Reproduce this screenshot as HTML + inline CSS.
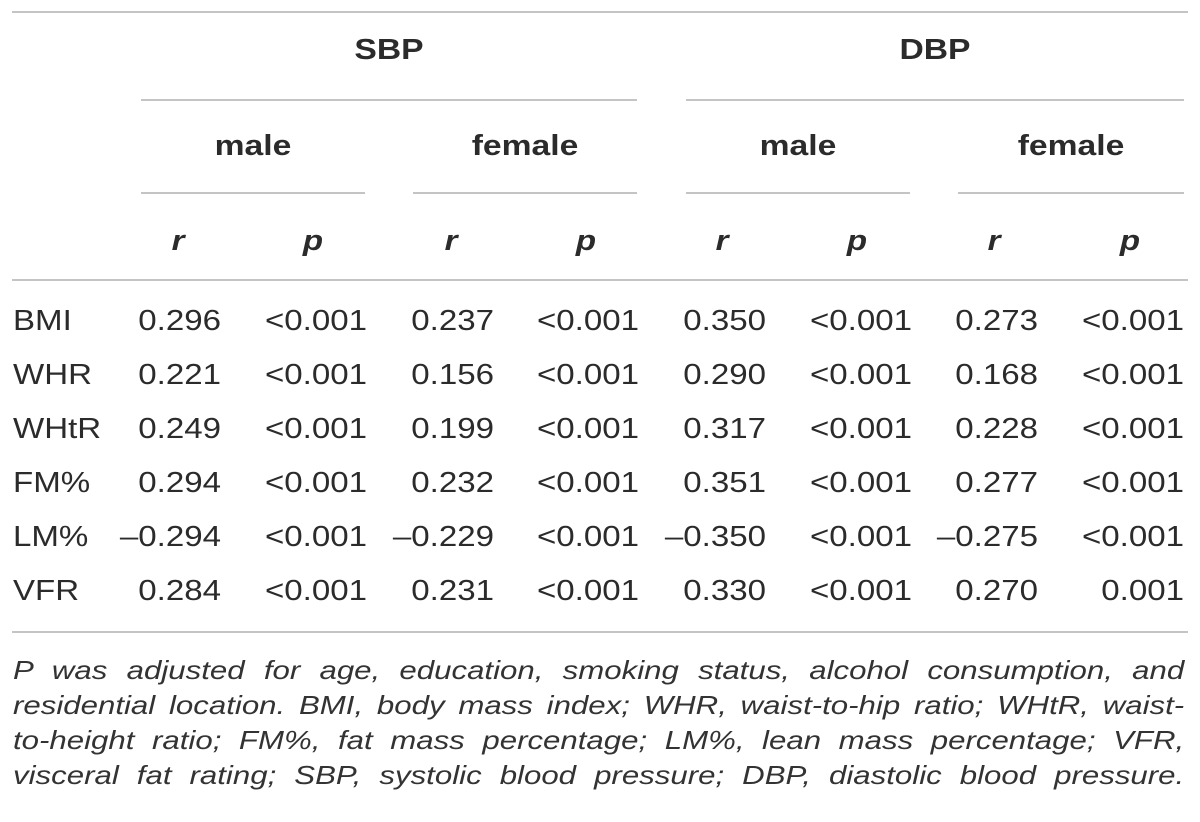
<!DOCTYPE html>
<html><head><meta charset="utf-8"><style>
body{margin:0;width:1200px;height:822px;background:#fff;font-family:"Liberation Sans",sans-serif;color:#2b2b2b;position:relative;overflow:hidden}
.l{position:absolute;height:2px;background:#c4c4c4}
.t{position:absolute;font-size:28.5px;line-height:32px;white-space:nowrap;transform:scaleX(1.16);transform-origin:left center}
.b{font-weight:bold;font-size:29px}
.i{font-style:italic;font-weight:bold}
.r{text-align:right;transform-origin:right center}
.c{text-align:center;transform-origin:center center}
.fn{position:absolute;left:13px;width:976px;font-style:italic;font-size:26px;line-height:30px;text-align:justify;text-align-last:justify;white-space:nowrap;color:#333;transform:scaleX(1.2);transform-origin:left center}
</style></head><body>
<div class="l" style="left:12px;top:11px;width:1176px"></div>
<div class="t b c" style="left:141px;width:496px;top:34px">SBP</div>
<div class="t b c" style="left:686px;width:498px;top:34px">DBP</div>
<div class="l" style="left:141px;top:99px;width:496px"></div>
<div class="l" style="left:686px;top:99px;width:498px"></div>
<div class="t b c" style="left:141px;width:224px;top:130px">male</div>
<div class="t b c" style="left:413px;width:224px;top:130px">female</div>
<div class="t b c" style="left:686px;width:224px;top:130px">male</div>
<div class="t b c" style="left:958px;width:226px;top:130px">female</div>
<div class="l" style="left:141px;top:192px;width:224px"></div>
<div class="l" style="left:413px;top:192px;width:224px"></div>
<div class="l" style="left:686px;top:192px;width:224px"></div>
<div class="l" style="left:958px;top:192px;width:226px"></div>
<div id="rp"></div>
<div class="l" style="left:12px;top:279px;width:1176px"></div>
<div id="rows"></div>
<div class="l" style="left:12px;top:631px;width:1176px"></div>
<div class="fn" style="top:655px">P was adjusted for age, education, smoking status, alcohol consumption, and</div>
<div class="fn" style="top:690px">residential location. BMI, body mass index; WHR, waist-to-hip ratio; WHtR, waist-</div>
<div class="fn" style="top:725px">to-height ratio; FM%, fat mass percentage; LM%, lean mass percentage; VFR,</div>
<div class="fn" style="top:760px">visceral fat rating; SBP, systolic blood pressure; DBP, diastolic blood pressure.</div>
<script>
const rowLabels=["BMI","WHR","WHtR","FM%","LM%","VFR"];
const sbpMaleR=["0.296","0.221","0.249","0.294","\u20130.294","0.284"];
const sbpMaleP=["<0.001","<0.001","<0.001","<0.001","<0.001","<0.001"];
const sbpFemaleR=["0.237","0.156","0.199","0.232","\u20130.229","0.231"];
const sbpFemaleP=["<0.001","<0.001","<0.001","<0.001","<0.001","<0.001"];
const dbpMaleR=["0.350","0.290","0.317","0.351","\u20130.350","0.330"];
const dbpMaleP=["<0.001","<0.001","<0.001","<0.001","<0.001","<0.001"];
const dbpFemaleR=["0.273","0.168","0.228","0.277","\u20130.275","0.270"];
const dbpFemaleP=["<0.001","<0.001","<0.001","<0.001","<0.001","0.001"];
const cols=[sbpMaleR,sbpMaleP,sbpFemaleR,sbpFemaleP,dbpMaleR,dbpMaleP,dbpFemaleR,dbpFemaleP];
const colNames=["sbp-male-r","sbp-male-p","sbp-female-r","sbp-female-p","dbp-male-r","dbp-male-p","dbp-female-r","dbp-female-p"];
const rightEdges=[221,367,494,639,766,912,1038,1184];
const rpCenters=[178,313,451,586,722,857,994,1130];
const rp=document.getElementById('rp');
rpCenters.forEach((cx,i)=>{
  const d=document.createElement('div');
  d.className='t i c';
  d.style.left=(cx-40)+'px';d.style.width='80px';d.style.top='225px';
  d.textContent=i%2?'p':'r';
  
  
  rp.appendChild(d);
});
const rows=document.getElementById('rows');
rowLabels.forEach((lab,ri)=>{
  const y=305+ri*54;
  const l=document.createElement('div');
  l.className='t';l.style.left='13px';l.style.top=y+'px';l.textContent=lab;
  
  
  rows.appendChild(l);
  cols.forEach((col,ci)=>{
    const d=document.createElement('div');
    d.className='t r';
    d.style.left=(rightEdges[ci]-140)+'px';d.style.width='140px';d.style.top=y+'px';
    d.textContent=col[ri];
    
    
    rows.appendChild(d);
  });
});
</script>
</body></html>
